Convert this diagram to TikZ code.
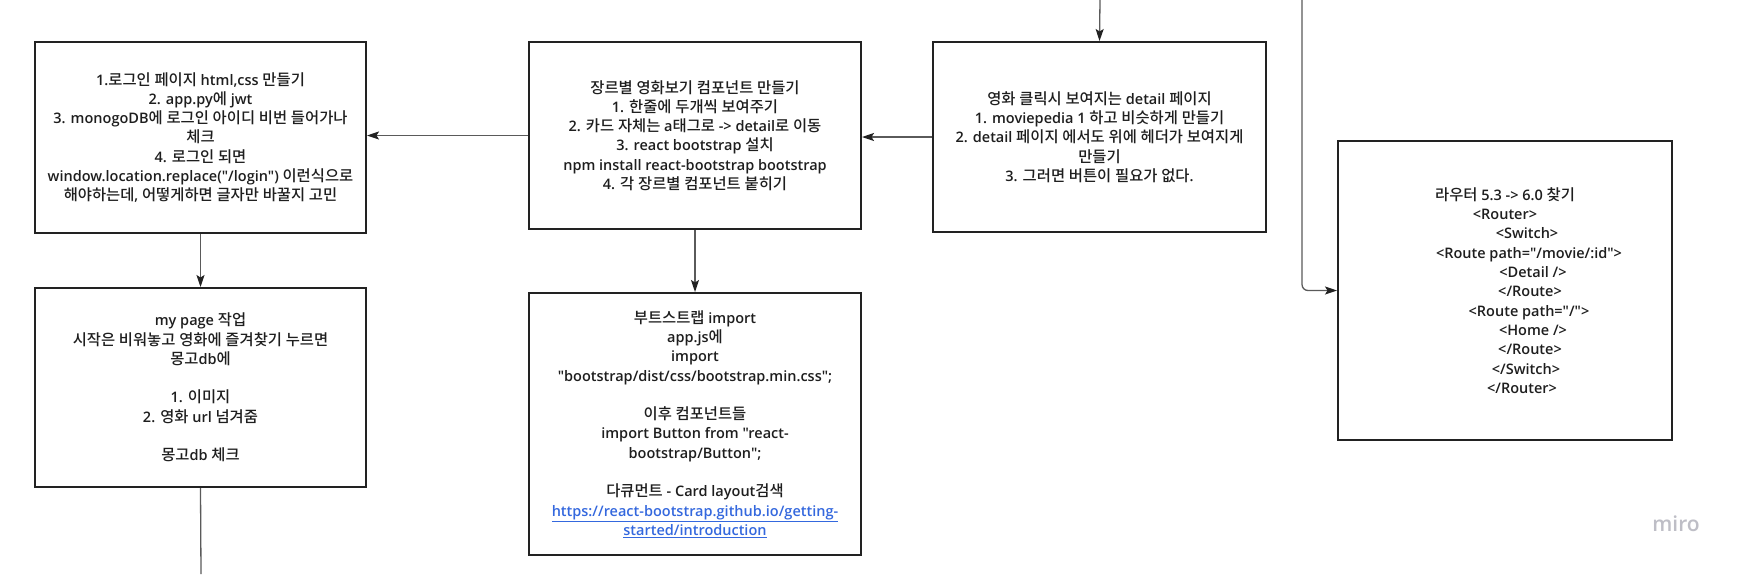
\documentclass[tikz,border=0pt]{standalone}
\usepackage{fontspec}
\IfFontExistsTF{Open Sans Semibold}
  {\setmainfont{Open Sans Semibold}[Ligatures=TeXOff]}
  {\setmainfont{Open Sans}[Ligatures=TeXOff,FakeBold=1]}
\IfFontExistsTF{Noto Sans CJK KR Medium}
  {\newfontfamily\krfont{Noto Sans CJK KR Medium}[Scale=1.06]}
  {\newfontfamily\krfont{Noto Sans CJK KR}[Scale=1.06,FakeBold=0.3]}
\usepackage{xcolor}
\usepackage{tikz}
\usetikzlibrary{arrows.meta}

% hangul runs are set in the CJK font
\XeTeXinterchartokenstate=1
\newXeTeXintercharclass\hangulclass
\count255="AC00
\loop
  \XeTeXcharclass\count255=\hangulclass
  \ifnum\count255<"D7A3 \advance\count255 by 1 \repeat
\newcommand\latfont{\rmfamily}
\XeTeXinterchartoks 0 \hangulclass = {\krfont}
\XeTeXinterchartoks 4095 \hangulclass = {\krfont}
\XeTeXinterchartoks \hangulclass 0 = {\latfont}
\XeTeXinterchartoks \hangulclass 4095 = {\latfont}

\definecolor{boxgray}{RGB}{34,34,34}
\definecolor{linegray}{RGB}{90,90,90}
\definecolor{textgray}{RGB}{30,30,30}
\definecolor{urlblue}{RGB}{52,104,222}
\definecolor{miroGray}{RGB}{190,190,198}

\begin{document}
\begin{tikzpicture}[x=1pt,y=-1pt,
    card/.style={draw=boxgray,line width=2pt,fill=white,align=center,inner sep=4pt,
      font=\fontsize{14.5}{19.3}\selectfont,text=textgray},
    link/.style={-{Stealth[length=12pt,width=8pt,inset=2.5pt,color=boxgray]},draw=linegray,line width=1.3pt}]
  \useasboundingbox[fill=white] (0,0) rectangle (1740,574);
  % boxes
  \node[card,minimum width=331pt,minimum height=191pt] (login) at (200.5,137.5) {%
    1.로그인 페이지 html,css 만들기\\
    2. app.py에 jwt\\
    3. monogoDB에 로그인 아이디 비번 들어가나\\
    체크\\
    4. 로그인 되면\\
    window.location.replace("/login") 이런식으로\\
    해야하는데, 어떻게하면 글자만 바꿀지 고민};
  \node[card,minimum width=332pt,minimum height=187pt] (genre) at (695,135.5) {%
    장르별 영화보기 컴포넌트 만들기\\
    1. 한줄에 두개씩 보여주기\\
    2. 카드 자체는 a태그로 -> detail로 이동\\
    3. react bootstrap 설치\\
    npm install react-bootstrap bootstrap\\
    4. 각 장르별 컴포넌트 붙히기};
  \node[card,minimum width=333pt,minimum height=190pt] (detail) at (1099.5,137) {%
    영화 클릭시 보여지는 detail 페이지\\
    1. moviepedia 1 하고 비슷하게 만들기\\
    2. detail 페이지 에서도 위에 헤더가 보여지게\\
    만들기\\
    3. 그러면 버튼이 필요가 없다.};
  \node[card,minimum width=331pt,minimum height=199pt] (mypage) at (200.5,387.5) {%
    my page 작업\\
    시작은 비워놓고 영화에 즐겨찾기 누르면\\
    몽고db에\\[19.3pt]
    1. 이미지\\
    2. 영화 url 넘겨줌\\[19.3pt]
    몽고db 체크};
  \node[card,minimum width=332pt,minimum height=262pt] (bootstrap) at (695,424) {%
    부트스트랩 import\\
    app.js에\\
    import\\
    "bootstrap/dist/css/bootstrap.min.css";\\[19.3pt]
    이후 컴포넌트들\\
    import Button from "react-\\
    bootstrap/Button";\\[19.3pt]
    다큐먼트 - Card layout검색\\
    \textcolor{urlblue}{\underline{https://react-bootstrap.github.io/getting-}}\\
    \textcolor{urlblue}{\underline{started/introduction}}};
  \node[card,minimum width=334pt,minimum height=299pt] (router) at (1505,290.5) {%
    라우터 5.3 -> 6.0 찾기\\
    <Router>\\
    \hspace*{44pt}<Switch>\\
    \hspace*{48pt}<Route path="/movie/:id">\\
    \hspace*{56pt}<Detail />\\
    \hspace*{50pt}</Route>\\
    \hspace*{48pt}<Route path="/">\\
    \hspace*{56pt}<Home />\\
    \hspace*{50pt}</Route>\\
    \hspace*{42pt}</Switch>\\
    \hspace*{34pt}</Router>};
  % loose ends
  \coordinate (topA) at (1100,0);
  \coordinate (topB) at (1302,0);
  \coordinate (downEnd) at (201,574);
  % connectors
  \draw[link] (topA) -- (detail.north);
  \draw[link,rounded corners=6pt] (topB) |- (router.west);
  \draw[link] (detail.west) -- (detail.west -| genre.east);
  \draw[link] (genre.west) -- (genre.west -| login.east);
  \draw[link] (login.south) -- (mypage.north);
  \draw[link] (genre.south) -- (bootstrap.north);
  \draw[draw=linegray,line width=1.3pt] (mypage.south) -- (downEnd);
  % watermark
  \node[text=miroGray,font=\fontsize{21}{21}\selectfont] (miro) at (1676,524) {miro};
\end{tikzpicture}
\end{document}
